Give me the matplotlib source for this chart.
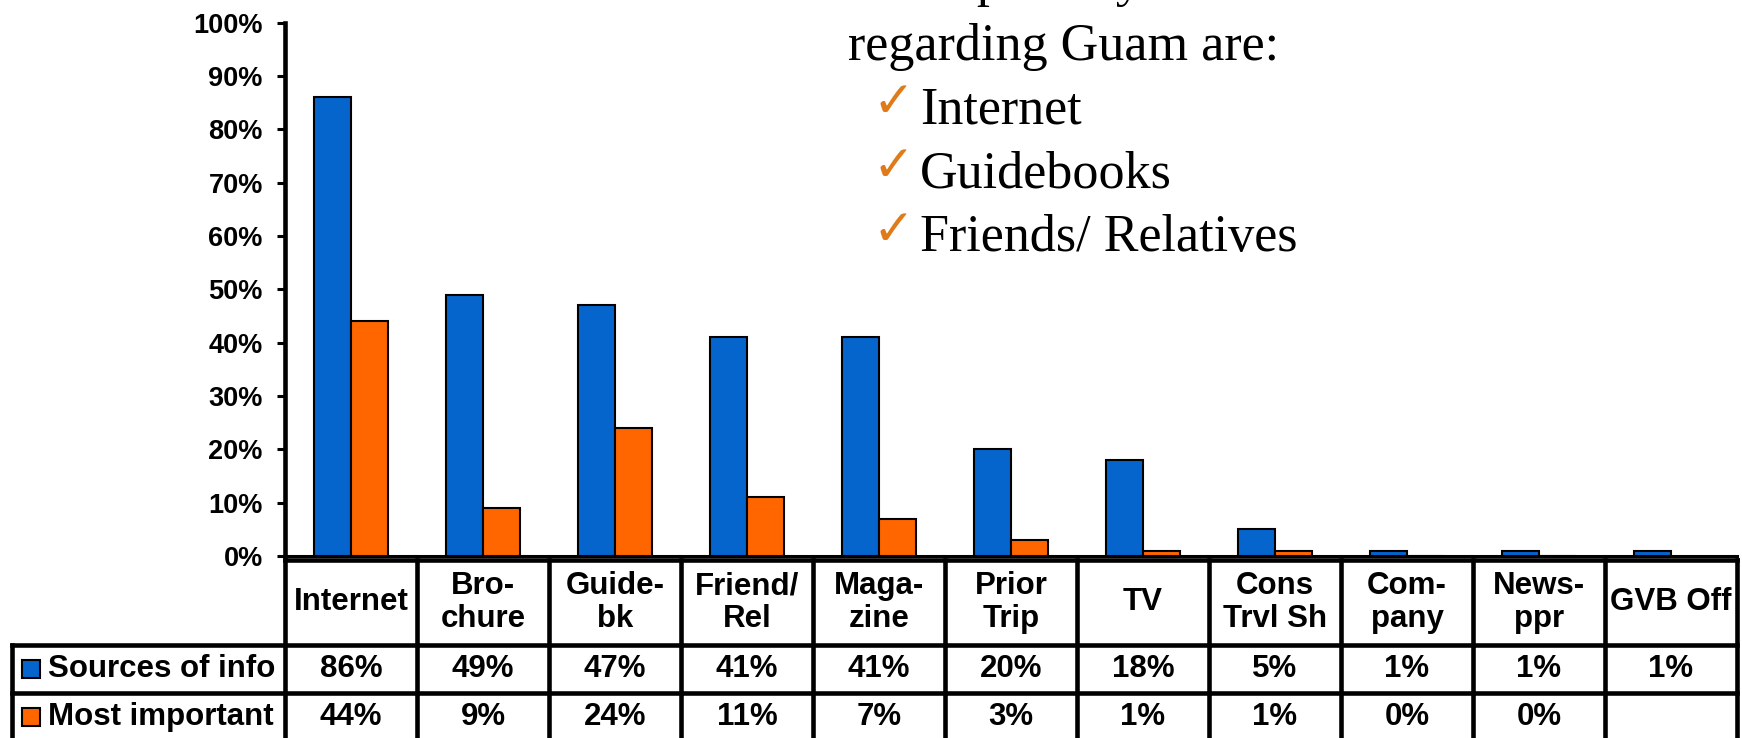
import numpy as np
import matplotlib.pyplot as plt
from matplotlib.transforms import blended_transform_factory

# survey data: where visitors got information about Guam
categories = ["Internet", "Bro-\nchure", "Guide-\nbk", "Friend/\nRel", "Maga-\nzine",
              "Prior\nTrip", "TV", "Cons\nTrvl Sh", "Com-\npany", "News-\nppr", "GVB Off"]
sources = [86, 49, 47, 41, 41, 20, 18, 5, 1, 1, 1]
important = [44, 9, 24, 11, 7, 3, 1, 1, 0, 0, np.nan]
series_names = ["Sources of info", "Most important"]
yticks = np.arange(0, 101, 10)

intro_lines = ["The primary sources of information", "regarding Guam are:"]
highlights = ["Internet", "Guidebooks", "Friends/ Relatives"]

BLUE = "#0565CC"
ORANGE = "#FF6600"
CHECK = "#E07B1A"
SANS = "Liberation Sans"
SERIF = "Liberation Serif"

W, H = 1742, 738
fig = plt.figure(figsize=(W / 100, H / 100), dpi=100)

# plot area in pixels
x0, x1, y_top, y_zero = 285, 1737, 22.7, 556
ax = fig.add_axes([x0 / W, (H - y_zero) / H, (x1 - x0) / W, (y_zero - y_top) / H])

n = len(categories)
x = np.arange(n)
w = 0.284
imp = np.array(important, dtype=float)
ok = ~np.isnan(imp)
ax.bar(x - w / 2, sources, w, color=BLUE, edgecolor="black", linewidth=1.5, zorder=3)
ax.bar(x[ok] + w / 2, imp[ok], w, color=ORANGE, edgecolor="black", linewidth=1.5, zorder=3)

ax.set_xlim(-0.5, n - 0.5)
ax.set_ylim(0, 100)
ax.set_yticks(yticks)
ax.set_yticklabels([f"{v}%" for v in yticks], fontsize=19.5, fontweight="bold", family=SANS)
ax.set_xticks([])
ax.tick_params(axis="y", length=6, width=2.2, pad=10)
for s in ("top", "right"):
    ax.spines[s].set_visible(False)
ax.spines["left"].set_linewidth(3.3)
ax.spines["bottom"].set_linewidth(2.2)

# data table under the axis
trans = blended_transform_factory(ax.transData, ax.transAxes)
col_px = (x1 - x0) / n


def ay(ypx):
    return (y_zero - ypx) / (y_zero - y_top)


head_top, head_bot, row1_bot, row2_bot = ay(560), ay(645), ay(693), ay(741)
leg_left = -0.5 + (11.5 - x0) / col_px
lw = 3.3
kw = dict(color="black", lw=lw, transform=trans, clip_on=False, solid_capstyle="projecting")

for xb in np.arange(-0.5, n, 1.0):
    ax.plot([xb, xb], [head_top, row2_bot], **kw)
ax.plot([leg_left, leg_left], [head_bot, row2_bot], **kw)
ax.plot([-0.5, n - 0.5], [head_top, head_top], **kw)
for yb in (head_bot, row1_bot, row2_bot):
    ax.plot([leg_left, n - 0.5], [yb, yb], **kw)

txt = dict(transform=trans, ha="center", va="center", fontsize=22.5, fontweight="bold",
           family=SANS, clip_on=False)
for i, lab in enumerate(categories):
    ax.text(i, (head_top + head_bot) / 2, lab, linespacing=1.12, **txt)

rows = [(sources, BLUE, head_bot, row1_bot), (important, ORANGE, row1_bot, row2_bot)]
for name, (vals, col, top, bot) in zip(series_names, rows):
    yc = (top + bot) / 2
    for i, v in enumerate(vals):
        if not np.isnan(v):
            ax.text(i, yc, f"{v:.0f}%", **txt)
    ax.plot([leg_left + (31 - 11.5) / col_px], [yc], marker="s", ms=13, mfc=col,
            mec="black", mew=1.5, transform=trans, clip_on=False)
    ax.text(leg_left + (48 - 11.5) / col_px, yc, name, transform=trans, ha="left",
            va="center", fontsize=22.5, fontweight="bold", family=SANS, clip_on=False)


def fx(px):
    return px / W


def fy(py):
    return 1 - py / H


# summary text in the upper right
fig.text(fx(883), fy(-4), intro_lines[0], family=SERIF, fontsize=37.5, va="baseline")
fig.text(fx(848), fy(60), intro_lines[1], family=SERIF, fontsize=37.5, va="baseline")
for k, item in enumerate(highlights):
    yb = 123 + 64 * k
    fig.text(fx(872), fy(yb - 6), "\u2713", family="DejaVu Sans", fontsize=36,
             fontweight="bold", color=CHECK, va="baseline")
    fig.text(fx(920), fy(yb), item, family=SERIF, fontsize=37.5, va="baseline")

fig.savefig("out.png", dpi=100)
